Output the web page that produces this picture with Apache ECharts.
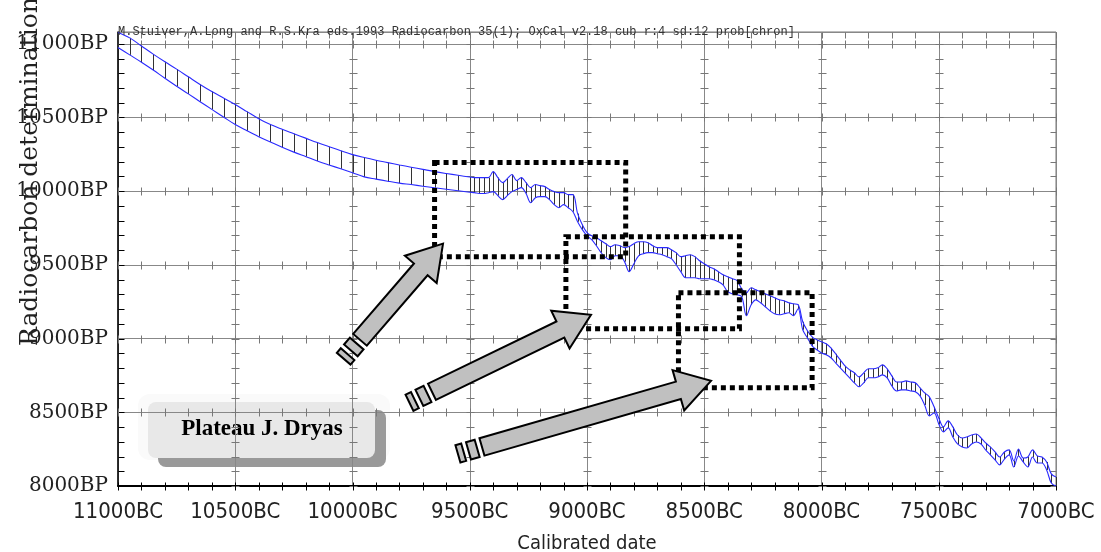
<!DOCTYPE html>
<html><head><meta charset="utf-8">
<script src="https://cdn.jsdelivr.net/npm/echarts@6/dist/echarts.min.js"></script>
<style>html,body{margin:0;padding:0;background:#fff}#c{width:1101px;height:552px}</style>
</head><body><div id="c"></div>
<script>
// Calendar years (BC) of the calibration curve samples
const years = [11000,10950,10900,10850,10800,10750,10700,10650,10600,10550,10500,10450,10400,10350,10300,10250,10200,10150,10100,10050,10000,9950,9900,9850,9800,9750,9700,9650,9600,9550,9500,
9480,9460,9440,9420,9400,9380,9360,9340,9320,9300,9280,9260,9240,9220,9200,9180,9160,9140,9120,9100,9080,9060,9040,9020,9000,
8980,8960,8940,8920,8900,8880,8860,8840,8820,8800,8780,8760,8740,8720,8700,8680,8660,8640,8620,8600,8580,8560,8540,8520,8500,
8480,8460,8440,8420,8400,8380,8360,8340,8320,8300,8280,8260,8240,8220,8200,8180,8160,8140,8120,8100,8080,8060,8040,8020,8000,
7980,7960,7940,7920,7900,7880,7860,7840,7820,7800,7780,7760,7740,7720,7700,7680,7660,7640,7620,7600,7580,7560,7540,7520,7500,
7480,7460,7440,7420,7400,7380,7360,7340,7320,7300,7280,7260,7240,7220,7200,7180,7160,7140,7120,7100,7080,7060,7040,7020,7000];
// Upper (+1 sigma) radiocarbon age, BP
const upperBP = [11077,11040,10985,10930,10878,10828,10776,10724,10676,10632,10588,10540,10492,10452,10420,10390,10360,10330,10302,10274,10248,10228,10210,10194,10178,10163,10148,10133,10120,10108,10096,
10092,10092,10092,10092,10133,10092,10058,10085,10113,10072,10092,10058,10024,10045,10038,10031,10011,9997,9990,9990,9977,9977,9848,9773,9719,
9698,9685,9664,9644,9624,9637,9630,9617,9624,9644,9657,9657,9651,9630,9617,9617,9617,9603,9583,9556,9562,9569,9556,9528,9508,
9488,9474,9454,9433,9420,9406,9393,9338,9311,9345,9331,9318,9304,9291,9277,9263,9257,9243,9236,9230,9114,9053,9012,8992,8978,
8965,8937,8897,8856,8815,8788,8768,8740,8768,8795,8795,8802,8822,8795,8747,8706,8706,8713,8706,8700,8666,8632,8605,8537,8462,
8401,8442,8401,8346,8326,8333,8346,8353,8326,8292,8265,8231,8197,8231,8245,8170,8251,8190,8197,8245,8204,8197,8163,8082,8061];
// Lower (-1 sigma) radiocarbon age, BP
const lowerBP = [10975,10925,10875,10822,10766,10712,10660,10607,10555,10503,10452,10410,10370,10334,10298,10265,10235,10205,10178,10152,10125,10097,10082,10068,10055,10045,10034,10023,10013,10003,9993,
9990,9984,9984,9990,9997,9970,9943,9970,9997,10011,10024,9984,9922,9956,9963,9963,9943,9909,9888,9909,9888,9861,9793,9739,9698,
9671,9630,9583,9549,9535,9562,9562,9522,9454,9508,9562,9576,9583,9583,9576,9569,9556,9542,9501,9454,9413,9413,9413,9406,9406,
9406,9399,9386,9365,9318,9304,9297,9284,9155,9230,9263,9243,9216,9189,9168,9162,9168,9175,9155,9202,9060,9005,8951,8924,8903,
8890,8870,8836,8802,8768,8734,8700,8673,8700,8734,8734,8740,8754,8734,8679,8645,8652,8652,8645,8639,8611,8550,8476,8496,8421,
8367,8394,8333,8285,8265,8258,8285,8299,8285,8245,8211,8177,8143,8183,8211,8129,8204,8163,8129,8197,8156,8156,8109,8020,8000];

const xTickLabels = [11000,10500,10000,9500,9000,8500,8000,7500,7000];
const yTickLabels = [8000,8500,9000,9500,10000,10500,11000];

// Highlighted windows: [fromBC, toBC, lowBP, highBP]
const boxes = [[9650,8835,9556,10194],[9090,8350,9066,9691],[8610,8040,8666,9311]];
// Arrows: [tailBC, tailBP, tipBC, tipBP]
const arrows = [[9968,8992,9614,9644],[9661,8639,8983,9162],[9448,8265,8471,8713]];

const headerText = 'M.Stuiver,A.Long and R.S.Kra eds.1993 Radiocarbon 35(1); OxCal v2.18 cub r:4 sd:12 prob[chron]';
const boxLabel = 'Plateau J. Dryas';

const X_MIN=7000, X_MAX=11000, Y_MIN=8000, Y_MAX=11080;
const minorX=[], minorY=[];
for(let v=X_MIN; v<=X_MAX; v+=100) minorX.push(v);
for(let v=Y_MIN; v<=11000; v+=100) minorY.push(v);

const upperData = years.map((y,i)=>[y, upperBP[i]]);
const lowerData = years.map((y,i)=>[y, lowerBP[i]]);
const hatchData = years.map((y,i)=>[y, lowerBP[i], upperBP[i]]);

const chart = echarts.init(document.getElementById('c'));

function tickRender(params, api){
  const ch=[];
  const seg=(x1,y1,x2,y2,c)=>ch.push({type:'line',shape:{x1,y1,x2,y2},style:{stroke:c,lineWidth:1}});
  xTickLabels.forEach(X=>{
    minorY.forEach(Y=>{
      const p=api.coord([X,Y]); const px=Math.round(p[0])+0.5, py=Math.round(p[1])+0.5;
      if(X===X_MAX) seg(px,py,px+6,py,'#000');
      else if(X===X_MIN) seg(px-6,py,px,py,'#777');
      else seg(px-4,py,px+4,py,'#777');
    });
  });
  yTickLabels.concat([Y_MAX]).forEach(Y=>{
    minorX.forEach(X=>{
      const p=api.coord([X,Y]); const px=Math.round(p[0])+0.5, py=Math.round(p[1])+0.5;
      if(Y===Y_MAX) seg(px,py,px,py+6,'#777');
      else if(Y===Y_MIN) seg(px,py-4,px,py+4,'#000');
      else seg(px,py-4,px,py+4,'#777');
    });
  });
  return {type:'group',children:ch};
}

function arrowRender(params, api){
  const t=api.coord([api.value(0),api.value(1)]);
  const p=api.coord([api.value(2),api.value(3)]);
  const dx=p[0]-t[0], dy=p[1]-t[1], L=Math.hypot(dx,dy);
  const d=[dx/L,dy/L], n=[-d[1],d[0]];
  const w=9, hw=21, hl=34;
  const b=[p[0]-d[0]*hl,p[1]-d[1]*hl];
  const P=(o,k)=>[o[0]+n[0]*k,o[1]+n[1]*k];
  const body=[P(t,w),P(b,w),P(b,hw),p,P(b,-hw),P(b,-w),P(t,-w)];
  const dash=(s,e)=>{const a=[t[0]-d[0]*s,t[1]-d[1]*s], c=[t[0]-d[0]*e,t[1]-d[1]*e];
    return {type:'polygon',shape:{points:[P(a,w),P(c,w),P(c,-w),P(a,-w)]},style:{fill:'#c0c0c0',stroke:'#000',lineWidth:2}};};
  return {type:'group',children:[
    dash(5,14), dash(19,25),
    {type:'polygon',shape:{points:body},style:{fill:'#c0c0c0',stroke:'#000',lineWidth:2}}
  ]};
}

function boxRender(params, api){
  const a=api.coord([api.value(0),api.value(3)]);
  const b=api.coord([api.value(1),api.value(2)]);
  return {type:'rect',shape:{x:a[0],y:a[1],width:b[0]-a[0],height:b[1]-a[1]},
    style:{fill:null,stroke:'#000',lineWidth:5,lineDash:[5,4]}};
}

const option = {
  animation:false,
  backgroundColor:'#fff',
  grid:{left:118,right:45,top:32,bottom:66,outerBoundsMode:'none',containLabel:false,show:true,borderColor:'#777',borderWidth:1},
  xAxis:{type:'value',min:X_MIN,max:X_MAX,interval:500,inverse:true,
    axisLine:{show:true,lineStyle:{color:'#000',width:2}},axisTick:{show:false},
    axisLabel:{formatter:v=>v+'BC',fontFamily:'DejaVu Sans Condensed, DejaVu Sans',fontSize:22,color:'#222',margin:15},
    splitLine:{show:true,lineStyle:{color:'#888',width:1}},
    name:'Calibrated date',nameLocation:'middle',nameGap:48,
    nameTextStyle:{fontFamily:'DejaVu Sans Condensed, DejaVu Sans',fontSize:20,color:'#222'}},
  yAxis:{type:'value',min:Y_MIN,max:Y_MAX,interval:500,
    axisLine:{show:true,lineStyle:{color:'#000',width:1.5}},axisTick:{show:false},
    axisLabel:{formatter:v=>(v%500===0?v+'BP':''),showMaxLabel:false,fontFamily:'DejaVu Serif',fontSize:20,color:'#222',margin:10},
    splitLine:{show:true,lineStyle:{color:'#888',width:1}}},
  graphic:[
    {type:'text',left:118,top:26,z:100,style:{text:headerText,font:'12px "Liberation Mono"',fill:'#333'}},
    {type:'text',x:30,y:346,rotation:Math.PI/2,z:100,style:{text:'Radiocarbon determination',font:'25px "DejaVu Serif"',fill:'#222',textAlign:'left',textVerticalAlign:'middle'}},
    {type:'group',z:50,children:[
      {type:'rect',shape:{x:138,y:394,width:252,height:66,r:12},style:{fill:'#fafafa'}},
      {type:'rect',shape:{x:158,y:410,width:228,height:57,r:8},style:{fill:'#999'}},
      {type:'rect',shape:{x:148,y:402,width:227,height:56,r:8},style:{fill:'#e8e8e8'}},
      {type:'text',x:262,y:429,style:{text:boxLabel,font:'bold 23px "Liberation Serif"',fill:'#000',textAlign:'center',textVerticalAlign:'middle',shadowColor:'rgba(0,0,0,0.35)',shadowBlur:2,shadowOffsetX:1,shadowOffsetY:1}}
    ]}
  ],
  series:[
    {type:'custom',name:'ticks',data:[[X_MIN,Y_MIN]],renderItem:tickRender,silent:true,z:1},
    {type:'custom',name:'hatch',data:hatchData,encode:{x:0,y:[1,2]},silent:true,z:2,
      renderItem:(params,api)=>{const a=api.coord([api.value(0),api.value(1)]),b=api.coord([api.value(0),api.value(2)]);
        const x=Math.round(a[0])+0.5;
        return {type:'line',shape:{x1:x,y1:a[1],x2:x,y2:b[1]},style:{stroke:'#333',lineWidth:1}};}},
    {type:'line',name:'upper',data:upperData,smooth:0.35,showSymbol:false,lineStyle:{color:'#2a2aff',width:1.1},z:3},
    {type:'line',name:'lower',data:lowerData,smooth:0.35,showSymbol:false,lineStyle:{color:'#2a2aff',width:1.1},z:3},
    {type:'custom',name:'boxes',data:boxes,renderItem:boxRender,silent:true,z:4},
    {type:'custom',name:'arrows',data:arrows,renderItem:arrowRender,silent:true,z:5}
  ]
};
chart.setOption(option);
</script></body></html>
